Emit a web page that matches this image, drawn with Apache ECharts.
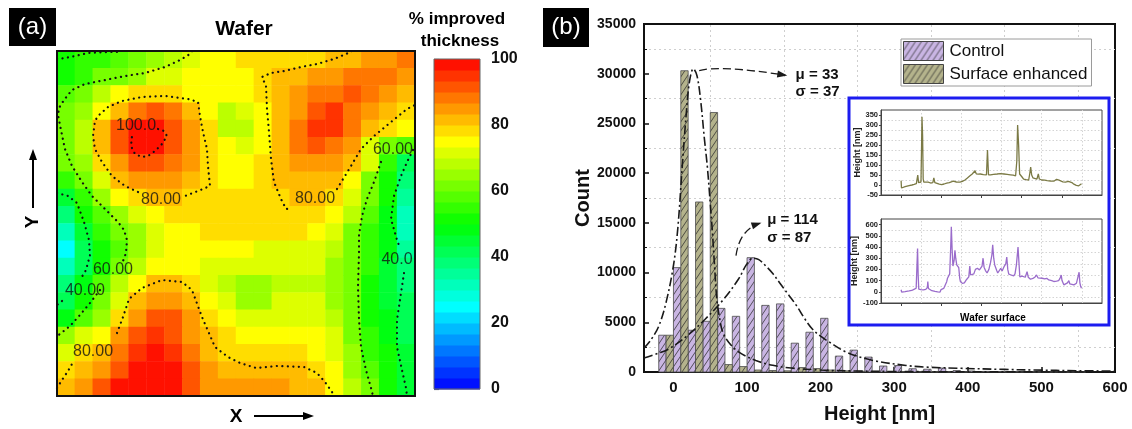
<!DOCTYPE html>
<html>
<head>
<meta charset="utf-8">
<script src="https://cdn.jsdelivr.net/npm/echarts@6/dist/echarts.min.js"></script>
<style>
html,body{margin:0;padding:0;background:#fff}
#c{width:1132px;height:429px}
</style>
</head>
<body>
<div id="c"></div>
<script>
const FONT = '"Liberation Sans", Arial, Helvetica, sans-serif';

// ---------- (a) wafer map: % improved thickness, 20 x 20 cells, rows top to bottom ----------
const waferRows = [
  [52,54,55,57,60,64,68,72,74,75,77,79,78,78,79,80,83,84,86,88],
  [52,54,60,63,66,70,73,75,75,75,76,79,81,82,84,86,87,88,88,85],
  [57,60,68,75,77,77,77,76,75,74,74,79,82,86,88,89,90,89,86,83],
  [60,66,75,83,88,90,87,83,75,68,70,75,81,86,92,94,88,85,82,78],
  [62,68,80,92,97,98,92,85,77,67,68,76,82,88,95,94,88,83,78,74],
  [62,68,81,90,98,98,92,86,78,74,73,76,82,87,90,88,84,72,62,58],
  [60,65,78,86,92,92,88,84,79,75,75,78,82,85,86,84,80,72,55,42],
  [56,62,72,80,84,85,84,82,78,76,76,77,81,83,82,80,76,63,52,38],
  [45,56,64,74,78,80,80,79,78,77,77,77,79,80,80,79,73,60,50,36],
  [38,50,58,66,72,76,77,77,78,78,78,78,78,78,77,74,68,57,48,32],
  [30,45,55,60,66,72,75,76,77,77,78,78,78,77,75,70,63,55,47,33],
  [26,40,52,58,66,72,75,75,74,74,74,73,72,72,72,68,62,55,47,35],
  [30,42,53,60,68,74,75,75,72,70,70,70,70,70,70,66,61,54,46,37],
  [38,48,58,68,76,81,81,78,72,68,65,66,69,69,69,66,60,53,45,38],
  [42,52,62,72,82,86,86,83,76,70,65,66,70,70,70,66,60,53,46,40],
  [48,58,66,79,86,92,90,86,78,74,72,72,73,73,72,68,61,53,47,41],
  [64,70,76,84,90,95,91,86,80,78,76,76,75,75,74,70,62,54,48,42],
  [72,78,80,88,95,98,95,88,82,79,78,78,77,77,76,72,64,56,50,44],
  [78,82,86,93,98,98,97,90,84,81,80,81,80,80,79,74,66,58,51,45],
  [80,86,90,97,98,98,98,93,86,84,84,84,84,83,81,76,68,60,52,46]
];

// dotted contour lines in wafer units (x 0..100 left to right, y 0..100 bottom to top)
const contourLines = [
  // top edge, upper-left
  [[0,97.68],[2.23,97.97],[5.03,98.55],[8.66,99.42],[14.25,99.71],[18.16,99.71]],
  // 60 % line, left side (upper part)
  [[37.71,100],[37.15,99.13],[34.36,97.39],[30.17,95.36],[24.58,93.62],[18.99,92.75],[13.41,91.59],[7.82,90.43],[4.19,88.70],[1.96,85.80],[0.56,83.48],[0.28,81.45],[0.84,78.55],[1.40,75.65],[2.23,71.59],[4.19,66.67],[6.98,62.03],[9.78,57.97],[13.41,54.20],[17.04,50.43],[18.72,48.12],[19.55,45.22],[19.27,41.45],[18.4,39.0]],
  // 60 % line, left side (lower part)
  [[12.01,30.72],[9.22,26.96],[6.42,23.48],[3.63,20.29],[0.84,17.97],[0,17.39]],
  // 40 % line, left side
  [[0,58.84],[3.07,57.97],[5.59,55.94],[7.54,50.43],[8.94,45.22],[9.22,40.87],[8.10,36.52],[6.42,33.62]],
  [[1.40,27.54],[0,26.38]],
  // 80 % closed line around the upper-left peak
  [[22.63,59.13],[18.99,60.87],[15.36,63.77],[12.57,67.83],[10.61,71.59],[10.06,75.36],[10.61,79.71],[11.45,81.16],[14.25,83.77],[18.16,85.51],[23.74,86.67],[30.17,86.96],[36.59,86.09],[39.39,85.22],[39.94,81.16],[40.78,76.52],[41.90,71.59],[42.18,66.67],[42.74,60.87],[39.39,59.42],[35.75,57.97]],
  // 100 % line
  [[28.21,77.39],[29.89,76.81],[30.73,75.36],[29.33,73.04],[27.37,71.01],[25.42,69.57],[23.74,69.28],[21.79,70.14],[20.67,72.46],[20.95,75.36]],
  // 80 % line, upper right
  [[82.40,100],[80.73,99.13],[77.37,97.68],[72.63,96.23],[68.16,95.36],[63.41,94.20],[59.78,93.62],[57.26,92.46],[58.38,89.86],[58.66,83.19],[59.22,76.52],[59.78,68.70],[60.61,62.03],[62.57,57.10],[63.97,54.20],[65.64,54.49]],
  [[78.21,60.00],[82.12,66.67],[84.92,71.59],[88.55,75.36],[93.30,79.42],[97.77,83.19],[100,84.35]],
  // 60 % line, right side
  [[90.50,67.83],[88.55,62.03],[86.59,57.10],[85.20,52.17],[84.36,46.67],[84.36,41.45],[84.08,31.59],[84.36,22.03],[84.92,14.20],[86.31,7.54],[87.71,2.32],[88.27,0]],
  // 40 % line, right side
  [[99.44,71.30],[97.77,67.83],[96.09,63.77],[94.13,57.97],[93.30,51.30],[94.97,45.22],[95.81,42.90]],
  [[96.93,35.65],[96.09,29.86],[94.97,22.03],[94.97,14.20],[96.37,7.54],[97.49,2.32],[97.77,0]],
  // 80 % line, bottom
  [[0,2.32],[1.40,4.64],[3.07,7.25],[4.19,9.28]],
  [[16.76,18.26],[18.44,22.90],[20.11,28.12],[23.74,31.30],[29.33,33.62],[34.92,33.04],[37.71,30.72],[40.50,22.90],[44.13,14.20],[47.77,11.30],[51.12,9.57],[55.59,8.12],[61.45,8.70],[68.99,8.41],[72.63,6.67],[74.86,4.06],[76.82,1.16],[77.37,0]]
];
const contourLabels = [
  {name:'100.0', value:[22.07,78.26]},
  {name:'80.00', value:[29.05,56.81]},
  {name:'80.00', value:[72.07,57.10]},
  {name:'60.00', value:[93.85,71.30]},
  {name:'60.00', value:[15.64,36.52]},
  {name:'40.00', value:[7.82,30.43]},
  {name:'40.0',  value:[94.97,39.42]},
  {name:'80.00', value:[10.06,12.75]}
];

// ---------- (b) height histogram ----------
const binStart      = [-20,0,20,40,60,80,100,120,140,160,180,200,220,240,260,280,300,320,340,360,380,400,420,440,460,480,500,520,540];
const controlCounts = [3700,10500,4200,5100,6400,5600,11500,6700,6850,2900,4000,5400,1600,2200,1500,600,650,330,280,400,150,100,60,50,30,20,20,10,10];
const surfaceCounts = [3700,30300,17100,26100,750,550,200,150,120,450,350,200,120,80,60,40,30,20,15,10,10,5,5,5,0,0,0,0,0];
const heightTicks = [0,100,200,300,400,500,600];
const heightGrid  = [50,150,250,350,450,550];

const surfaceFit = [[-40,2400],[-30,3300],[-20,4600],[-10,7000],[0,10700],[6,14500],[12,20700],[18,26500],[22,29300],[27,30500],[32,29800],[37,27300],[42,23500],[46,20700],[50,17000],[53,14000],[56,10500],[59,7300],[63,5300],[67,4000],[75,3000],[89,2000],[112,1160],[135,670],[160,400],[200,200],[250,100],[300,50],[400,20],[600,0]];
const controlFit = [[-40,1400],[-20,1900],[-6,2330],[18,3600],[43,5300],[68,7300],[88,9300],[100,10900],[108,11450],[116,11300],[125,10700],[135,9900],[144,9000],[155,7900],[167,6700],[178,5400],[189,4300],[200,3600],[212,3000],[235,2000],[271,1160],[316,660],[341,500],[391,370],[450,260],[490,200],[550,130],[600,90]];

const surfaceStats = {text:['μ = 33','σ = 37'], at:[[166,29930],[166,28130]], arrow:[[35,30300],[62,30900],[152,29850]]};
const controlStats = {text:['μ = 114','σ = 87'], at:[[127.5,15330],[127.5,13530]], arrow:[[85,11700],[90,14300],[117,14950]]};

// ---------- inset: height profiles across the wafer surface ----------
const profileTicks = [0,2,4,6,8];
const profileGrid  = [1,3,5,7,9];
const surfaceProfile = [[0,22],[0.02,-15],[0.1,-12],[0.2,-8],[0.29,-10],[0.4,-3],[0.54,0],[0.65,3],[0.76,7],[0.8,8],[0.83,50],[0.87,12],[0.93,12],[0.99,15],[1.02,200],[1.04,341],[1.07,250],[1.1,30],[1.13,14],[1.22,12],[1.35,14],[1.47,10],[1.58,12],[1.63,36],[1.68,12],[1.76,9],[1.9,4],[2.02,2],[2.14,5],[2.27,9],[2.4,12],[2.5,16],[2.6,19],[2.75,15],[2.93,14],[3.05,18],[3.18,25],[3.3,35],[3.43,46],[3.54,55],[3.62,58],[3.68,71],[3.74,56],[3.84,54],[3.94,55],[4.1,52],[4.25,51],[4.3,175],[4.35,51],[4.45,51],[4.6,53],[4.78,55],[4.94,57],[5.12,55],[5.28,53],[5.44,51],[5.58,49],[5.7,46],[5.76,120],[5.8,300],[5.85,200],[5.9,55],[6.02,40],[6.1,29],[6.22,27],[6.35,25],[6.41,60],[6.45,89],[6.5,50],[6.56,36],[6.65,32],[6.76,29],[6.83,55],[6.88,30],[7.0,25],[7.15,24],[7.27,22],[7.44,20],[7.6,19],[7.74,28],[7.8,34],[7.86,24],[7.92,19],[8.05,16],[8.18,14],[8.33,18],[8.42,25],[8.5,12],[8.6,4],[8.72,-2],[8.84,-4],[8.92,2],[8.98,6]];
const controlProfile = [[0,18],[0.03,-2],[0.12,-4],[0.2,2],[0.29,4],[0.4,8],[0.53,12],[0.64,22],[0.75,32],[0.79,20],[0.82,386],[0.85,150],[0.88,24],[0.98,20],[1.11,18],[1.23,22],[1.31,40],[1.33,92],[1.36,30],[1.41,18],[1.53,10],[1.69,4],[1.82,0],[1.94,-2],[1.99,20],[2.03,18],[2.12,30],[2.2,47],[2.27,90],[2.31,121],[2.38,135],[2.42,160],[2.47,400],[2.5,580],[2.54,380],[2.58,230],[2.64,280],[2.68,370],[2.72,300],[2.77,240],[2.83,230],[2.87,215],[2.92,120],[2.95,92],[3.05,75],[3.15,80],[3.26,110],[3.37,133],[3.42,230],[3.46,150],[3.54,133],[3.62,160],[3.7,200],[3.8,210],[3.9,195],[3.95,185],[4.03,230],[4.08,300],[4.13,220],[4.2,190],[4.28,168],[4.37,200],[4.45,260],[4.52,330],[4.56,420],[4.61,300],[4.66,240],[4.7,230],[4.76,190],[4.81,168],[4.89,175],[4.96,210],[5.03,185],[5.14,230],[5.21,250],[5.26,310],[5.31,200],[5.36,157],[5.48,150],[5.6,142],[5.67,160],[5.74,240],[5.82,400],[5.87,250],[5.91,133],[6.02,140],[6.1,145],[6.18,130],[6.27,180],[6.33,130],[6.44,112],[6.56,120],[6.66,130],[6.74,150],[6.81,125],[6.9,120],[7.02,121],[7.15,115],[7.25,120],[7.35,106],[7.5,100],[7.6,92],[7.74,95],[7.84,100],[7.91,120],[7.97,150],[8.01,100],[8.1,62],[8.19,70],[8.28,80],[8.35,100],[8.4,70],[8.48,65],[8.6,62],[8.68,70],[8.73,77],[8.8,60],[8.86,175],[8.9,80],[8.94,47],[8.98,32]];

// ---------- colour scale: 30 bands, blue -> cyan -> green -> yellow -> red ----------
const rampStops = [[0,[0,0,255]],[25,[0,255,255]],[50,[0,255,0]],[75,[255,255,0]],[100,[255,0,0]]];
function ramp(v) {
  for (let i = 1; i < rampStops.length; i++) {
    const [v1, c1] = rampStops[i], [v0, c0] = rampStops[i - 1];
    if (v <= v1) {
      const t = (v - v0) / (v1 - v0);
      const c = c0.map((a, k) => Math.round(a + (c1[k] - a) * t));
      return 'rgb(' + c.join(',') + ')';
    }
  }
  return 'rgb(255,0,0)';
}
const BANDS = 30;
const bands = [];
for (let k = 0; k < BANDS; k++) {
  const lo = 100 * k / BANDS, hi = 100 * (k + 1) / BANDS;
  bands.push({lo, hi, color: ramp((lo + hi) / 2)});
}
const pieces = bands.map((b, k) => k === BANDS - 1 ? {gte: b.lo, lte: b.hi, color: b.color} : {gte: b.lo, lt: b.hi, color: b.color});

// ---------- hatch fills for the histogram bars ----------
function hatch(bg) {
  const c = document.createElement('canvas');
  c.width = 6; c.height = 9;
  const g = c.getContext('2d');
  g.fillStyle = bg; g.fillRect(0, 0, 6, 9);
  g.strokeStyle = 'rgba(45,45,45,0.85)'; g.lineWidth = 0.9;
  g.beginPath();
  g.moveTo(0, 9); g.lineTo(6, 0);
  g.moveTo(-1, 1.5); g.lineTo(1, -1.5);
  g.moveTo(5, 10.5); g.lineTo(7, 7.5);
  g.stroke();
  return {image: c, repeat: 'repeat'};
}
const controlFill = hatch('#c9b5e3');
const surfaceFill = hatch('#b4b38c');

// ---------- layout ----------
const MAP  = {left: 57, top: 51, width: 358, height: 345};
const CBAR = {left: 434, top: 59, width: 46, height: 330};
const HIST = {left: 644, top: 24, width: 471, height: 349};
const INS1 = {left: 881, top: 110, width: 221, height: 85};
const INS2 = {left: 881, top: 219, width: 221, height: 84};

const idx20 = Array.from({length: 20}, (_, i) => i);
const heatData = [];
waferRows.forEach((row, r) => row.forEach((v, c) => heatData.push([c, r, v])));

function barRenderer(fill, offset) {
  return function (params, api) {
    const x0 = api.value(0) + offset, c = api.value(1);
    const a = api.coord([x0, c]), b = api.coord([x0 + 10, 0]);
    return {type: 'rect', shape: {x: a[0], y: a[1], width: b[0] - a[0], height: b[1] - a[1]},
      style: {fill: fill, stroke: '#4d4d4d', lineWidth: 0.8}};
  };
}

const boldLabel = (size, extra) => Object.assign({fontFamily: FONT, fontWeight: 'bold', fontSize: size, color: '#111'}, extra || {});
const plain = v => String(v);

const series = [];
series.push({
  type: 'heatmap', xAxisIndex: 0, yAxisIndex: 0, data: heatData, z: 2,
  itemStyle: {borderWidth: 0}, emphasis: {disabled: true}, silent: true
});
contourLines.forEach(line => series.push({
  type: 'line', xAxisIndex: 1, yAxisIndex: 1, data: line, showSymbol: false, symbol: 'none', z: 3, silent: true,
  lineStyle: {color: '#111', width: 2.2, type: [0.1, 5.4], cap: 'round'}
}));
series.push({
  type: 'scatter', xAxisIndex: 1, yAxisIndex: 1, data: contourLabels, symbolSize: 0, z: 4, silent: true,
  label: {show: true, position: 'inside', formatter: '{b}', fontFamily: FONT, fontSize: 16, color: '#111'}
});
series.push({
  type: 'custom', xAxisIndex: 2, yAxisIndex: 2, data: bands.map(b => [b.lo, b.hi]), silent: true,
  renderItem(params, api) {
    const a = api.coord([0, api.value(1)]), b = api.coord([1, api.value(0)]);
    return {type: 'rect', shape: {x: a[0], y: a[1], width: b[0] - a[0], height: b[1] - a[1] + 0.6},
      style: {fill: bands[params.dataIndex].color}};
  }
});
// vertical dotted grid of the histogram
series.push({
  type: 'line', xAxisIndex: 3, yAxisIndex: 3, data: [], z: 1, silent: true,
  markLine: {silent: true, z: 1, symbol: 'none', label: {show: false}, animation: false,
    lineStyle: {color: '#cfcfcf', type: [2, 3], width: 1}, data: heightGrid.map(v => ({xAxis: v}))}
});
series.push({
  name: 'Control', type: 'custom', xAxisIndex: 3, yAxisIndex: 3, z: 2,
  itemStyle: {color: controlFill},
  data: binStart.map((b, i) => [b, controlCounts[i]]), renderItem: barRenderer(controlFill, 0)
});
series.push({
  name: 'Surface enhanced', type: 'custom', xAxisIndex: 3, yAxisIndex: 3, z: 2,
  itemStyle: {color: surfaceFill},
  data: binStart.map((b, i) => [b, surfaceCounts[i]]), renderItem: barRenderer(surfaceFill, 10)
});
[surfaceFit, controlFit].forEach(fit => series.push({
  type: 'line', xAxisIndex: 3, yAxisIndex: 3, data: fit, smooth: 0.35, showSymbol: false, symbol: 'none', z: 3, silent: true,
  lineStyle: {color: '#1a1a1a', width: 1.6, type: [9, 3, 2, 3]}
}));
[[surfaceProfile, '#7b7a45', 4], [controlProfile, '#9a6ccb', 5]].forEach(([prof, col, ax]) => series.push({
  type: 'line', xAxisIndex: ax, yAxisIndex: ax, data: prof, showSymbol: false, symbol: 'none', z: 7, silent: true,
  lineStyle: {color: col, width: 1.3},
  markLine: {silent: true, z: 6, symbol: 'none', label: {show: false}, animation: false,
    lineStyle: {color: '#d4d4d4', type: [1.5, 2], width: 1}, data: profileGrid.map(v => ({xAxis: v}))}
}));

function insetY(gridIndex, min, max, interval) {
  return {
    gridIndex, type: 'value', min, max, interval, z: 6,
    name: 'Height [nm]', nameLocation: 'middle', nameRotate: 90, nameGap: 18,
    nameTextStyle: boldLabel(9, {color: '#222'}),
    axisLine: {show: true, onZero: false, lineStyle: {color: '#444', width: 1}},
    axisTick: {show: true, length: 2, lineStyle: {color: '#444'}},
    axisLabel: Object.assign(boldLabel(7.5, {color: '#222'}), {margin: 3, showMaxLabel: false, formatter: plain}),
    splitLine: {show: false},
    minorTick: {show: false, splitNumber: 2},
    minorSplitLine: {show: true, lineStyle: {color: '#d4d4d4', type: [1.5, 2]}}
  };
}
function insetX(gridIndex) {
  return {
    gridIndex, type: 'value', min: -1, max: 10, z: 6,
    axisLine: {show: true, onZero: false, lineStyle: {color: '#444', width: 1}},
    axisTick: {show: true, inside: false, length: 3, customValues: profileTicks, lineStyle: {color: '#444'}},
    axisLabel: {show: false}, splitLine: {show: false}
  };
}

const option = {
  animation: false,
  backgroundColor: '#fff',
  textStyle: {fontFamily: FONT},
  grid: [
    Object.assign({}, MAP),
    Object.assign({}, CBAR),
    Object.assign({show: true, borderColor: '#111', borderWidth: 2}, HIST),
    Object.assign({show: true, z: 6, backgroundColor: '#fff', borderColor: '#444', borderWidth: 1}, INS1),
    Object.assign({show: true, z: 6, backgroundColor: '#fff', borderColor: '#444', borderWidth: 1}, INS2)
  ],
  xAxis: [
    {gridIndex: 0, type: 'category', data: idx20, show: false},
    {gridIndex: 0, type: 'value', min: 0, max: 100, show: false},
    {gridIndex: 1, type: 'value', min: 0, max: 1, show: false},
    {
      gridIndex: 2, type: 'value', min: -40, max: 600,
      name: 'Height [nm]', nameLocation: 'middle', nameGap: 32, nameTextStyle: boldLabel(20),
      axisLine: {show: true, onZero: false, lineStyle: {color: '#111', width: 2}},
      axisTick: {show: true, inside: true, length: 5, customValues: heightTicks, lineStyle: {color: '#111', width: 1.5}},
      axisLabel: Object.assign(boldLabel(15), {margin: 8, customValues: heightTicks, formatter: plain}),
      splitLine: {show: false}
    },
    insetX(3),
    insetX(4)
  ],
  yAxis: [
    {gridIndex: 0, type: 'category', data: idx20, inverse: true, show: false},
    {gridIndex: 0, type: 'value', min: 0, max: 100, show: false},
    {
      gridIndex: 1, type: 'value', min: 0, max: 100, interval: 20, position: 'right', offset: 3,
      axisLine: {show: false},
      axisTick: {show: true, length: 5, lineStyle: {color: '#777', width: 1.2}},
      axisLabel: Object.assign(boldLabel(16), {margin: 8}),
      splitLine: {show: false}
    },
    {
      gridIndex: 2, type: 'value', min: 0, max: 35000, interval: 5000,
      name: 'Count', nameLocation: 'middle', nameRotate: 90, nameGap: 45, nameTextStyle: boldLabel(20),
      axisLine: {show: true, onZero: false, lineStyle: {color: '#111', width: 2}},
      axisTick: {show: true, inside: true, length: 5, lineStyle: {color: '#111', width: 1.5}},
      minorTick: {show: true, splitNumber: 2, length: 3, lineStyle: {color: '#111'}},
      axisLabel: Object.assign(boldLabel(14), {margin: 8, formatter: plain}),
      splitLine: {show: false},
      minorSplitLine: {show: true, lineStyle: {color: '#cfcfcf', type: [2, 3], width: 1}}
    },
    insetY(3, -50, 375, 50),
    insetY(4, -100, 650, 100)
  ],
  visualMap: {
    type: 'piecewise', show: false, seriesIndex: 0, dimension: 2, pieces: pieces
  },
  legend: {
    left: 901, top: 39, orient: 'vertical', itemWidth: 40, itemHeight: 19, itemGap: 3,
    padding: [2, 4, 2, 2], borderColor: '#9a9a9a', borderWidth: 1, backgroundColor: '#fff',
    selectedMode: false,
    textStyle: {fontFamily: FONT, fontSize: 17, color: '#111', padding: [0, 0, 0, 1]},
    data: [
      {name: 'Control', icon: 'rect', itemStyle: {color: controlFill, borderColor: '#444', borderWidth: 1}},
      {name: 'Surface enhanced', icon: 'rect', itemStyle: {color: surfaceFill, borderColor: '#444', borderWidth: 1}}
    ]
  },
  series: series
};

const chart = echarts.init(document.getElementById('c'), null, {renderer: 'canvas', width: 1132, height: 429});
chart.setOption(option);

// ---------- panel decorations and annotations ----------
function txt(x, y, text, font, extra, fill) {
  return Object.assign({type: 'text', x, y, z: 20,
    style: {text, font, fill: fill || '#000', align: 'center', verticalAlign: 'middle'}}, extra || {});
}
const graphics = [];
// panel tags
graphics.push({type: 'rect', z: 20, shape: {x: 9, y: 8, width: 47, height: 38}, style: {fill: '#000'}});
graphics.push(txt(32.5, 27, '(a)', '24px ' + FONT, {z: 21}, '#fff'));
graphics.push({type: 'rect', z: 20, shape: {x: 543, y: 8, width: 46, height: 39}, style: {fill: '#000'}});
graphics.push(txt(566, 27, '(b)', '24px ' + FONT, {z: 21}, '#fff'));
// titles of the map panel
graphics.push(txt(244, 29, 'Wafer', 'bold 21px ' + FONT));
graphics.push(txt(457, 19, '% improved', 'bold 17px ' + FONT));
graphics.push(txt(460, 41, 'thickness', 'bold 17px ' + FONT));
// frames
graphics.push({type: 'rect', z: 15, shape: {x: MAP.left, y: MAP.top, width: MAP.width, height: MAP.height}, style: {fill: 'none', stroke: '#111', lineWidth: 2}});
graphics.push({type: 'rect', z: 15, shape: {x: CBAR.left, y: CBAR.top, width: CBAR.width, height: CBAR.height}, style: {fill: 'none', stroke: '#666', lineWidth: 1}});
// direction arrows
graphics.push({type: 'line', z: 20, shape: {x1: 33, y1: 208, x2: 33, y2: 158}, style: {stroke: '#000', lineWidth: 2}});
graphics.push({type: 'polygon', z: 20, shape: {points: [[33, 149], [29, 160], [37, 160]]}, style: {fill: '#000'}});
graphics.push(txt(33, 222, 'Y', 'bold 19px ' + FONT, {rotation: Math.PI / 2}));
graphics.push(txt(236, 417, 'X', 'bold 19px ' + FONT));
graphics.push({type: 'line', z: 20, shape: {x1: 254, y1: 416, x2: 304, y2: 416}, style: {stroke: '#000', lineWidth: 2}});
graphics.push({type: 'polygon', z: 20, shape: {points: [[314, 416], [303, 412], [303, 420]]}, style: {fill: '#000'}});
// inset box
graphics.push({type: 'rect', z: 5, shape: {x: 849, y: 98, width: 260, height: 227}, style: {fill: '#fff', stroke: '#1c1cf0', lineWidth: 3}});
graphics.push(txt(993, 318, 'Wafer surface', 'bold 10px ' + FONT, {z: 21}));

// fit annotations, placed through the histogram's own axes
const toPx = p => chart.convertToPixel({gridIndex: 2}, p);
[surfaceStats, controlStats].forEach(st => {
  const [p0, c, p1] = st.arrow.map(toPx);
  graphics.push({type: 'bezierCurve', z: 18,
    shape: {x1: p0[0], y1: p0[1], cpx1: c[0], cpy1: c[1], x2: p1[0], y2: p1[1]},
    style: {stroke: '#1a1a1a', lineWidth: 1.3, lineDash: [8, 4], fill: 'none'}});
  const dx = p1[0] - c[0], dy = p1[1] - c[1], L = Math.hypot(dx, dy) || 1;
  const ux = dx / L, uy = dy / L, len = 8, hw = 3.5;
  graphics.push({type: 'polygon', z: 18, shape: {points: [
    [p1[0] + ux * 2, p1[1] + uy * 2],
    [p1[0] - ux * len - uy * hw, p1[1] - uy * len + ux * hw],
    [p1[0] - ux * len + uy * hw, p1[1] - uy * len - ux * hw]
  ]}, style: {fill: '#1a1a1a'}});
  st.text.forEach((t, i) => {
    const p = toPx(st.at[i]);
    graphics.push({type: 'text', x: p[0], y: p[1], z: 18,
      style: {text: t, font: 'bold 15px ' + FONT, fill: '#111', align: 'left', verticalAlign: 'middle'}});
  });
});

chart.setOption({graphic: {elements: graphics}});
</script>
</body>
</html>
